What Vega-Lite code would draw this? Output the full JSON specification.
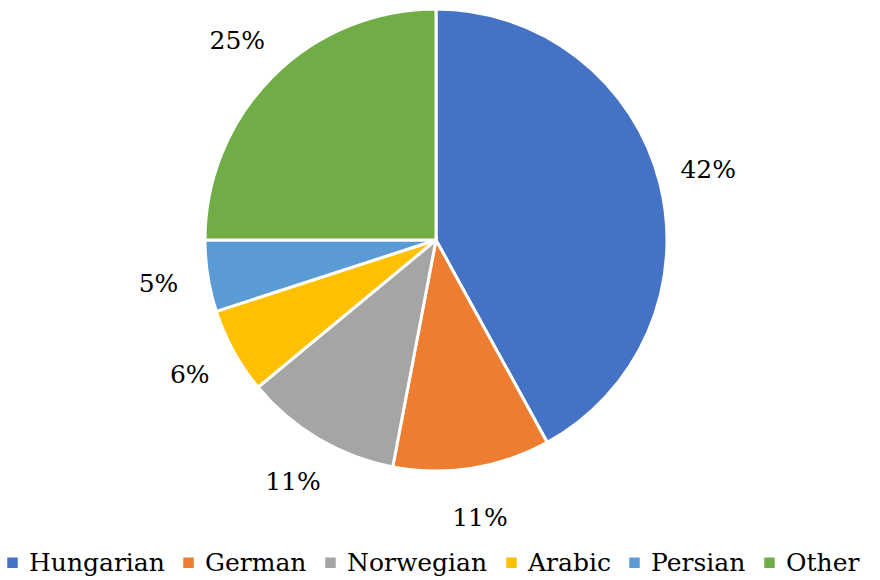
{
  "$schema": "https://vega.github.io/schema/vega-lite/v6.json",
  "width": 872,
  "height": 480,
  "padding": {"left": 0, "top": 0, "right": 8, "bottom": 100},
  "autosize": {"type": "none"},
  "background": "white",
  "config": {"font": "DejaVu Serif"},
  "data": {
    "values": [
      {"language": "Hungarian", "share": 42, "order": 1, "label": "42%"},
      {"language": "German", "share": 11, "order": 2, "label": "11%"},
      {"language": "Norwegian", "share": 11, "order": 3, "label": "11%"},
      {"language": "Arabic", "share": 6, "order": 4, "label": "6%"},
      {"language": "Persian", "share": 5, "order": 5, "label": "5%"},
      {"language": "Other", "share": 25, "order": 6, "label": "25%"}
    ]
  },
  "encoding": {
    "theta": {"field": "share", "type": "quantitative", "stack": true},
    "order": {"field": "order", "type": "quantitative"}
  },
  "layer": [
    {
      "mark": {"type": "arc", "outerRadius": 231, "stroke": "white", "strokeWidth": 3},
      "encoding": {
        "color": {
          "field": "language",
          "type": "nominal",
          "scale": {
            "domain": ["Hungarian", "German", "Norwegian", "Arabic", "Persian", "Other"],
            "range": ["#4472C4", "#ED7D31", "#A5A5A5", "#FFC000", "#5B9BD5", "#70AD47"]
          },
          "legend": {
            "title": null,
            "orient": "bottom",
            "direction": "horizontal",
            "offset": 70,
            "symbolType": "square",
            "symbolSize": 110,
            "symbolStrokeWidth": 0,
            "labelFont": "DejaVu Serif",
            "labelFontSize": 25,
            "labelColor": "#000000",
            "labelOffset": 4,
            "columnPadding": 11,
            "labelLimit": 400
          }
        }
      }
    },
    {
      "mark": {"type": "text", "radius": 281, "font": "DejaVu Serif", "fontSize": 25, "color": "#000000"},
      "encoding": {
        "text": {"field": "label", "type": "nominal"}
      }
    }
  ]
}
